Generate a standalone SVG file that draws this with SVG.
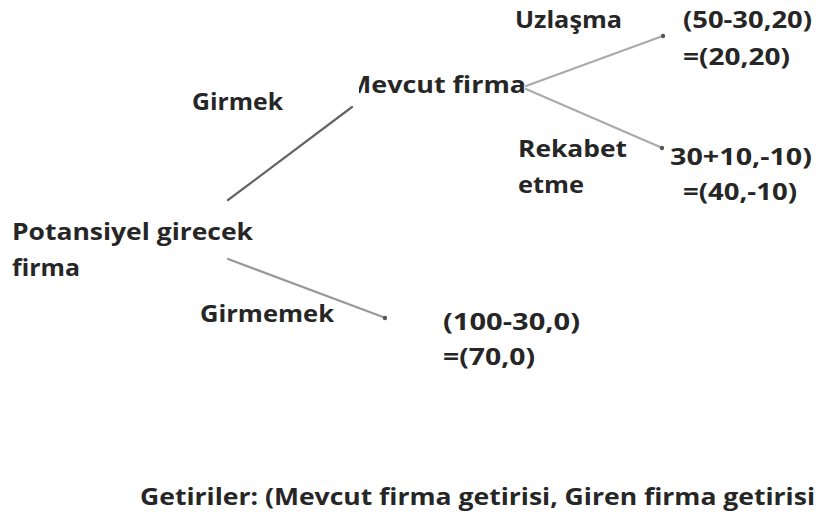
<svg xmlns="http://www.w3.org/2000/svg" width="822" height="523" viewBox="0 0 822 523">
<defs>
<style>
text{font-family:"Open Sans","Liberation Sans",sans-serif;font-weight:bold;font-size:24px;fill:#262626}
.e{stroke-width:2.2;fill:none;stroke-linecap:round}
.d{fill:#555}
</style>
<clipPath id="cm"><rect x="359" y="60" width="200" height="50"/></clipPath>
</defs>
<rect width="822" height="523" fill="#fff"/>
<g id="connectors">
<line class="e" x1="228" y1="200" x2="352" y2="107" stroke="#666"/>
<line class="e" x1="228" y1="259" x2="383" y2="317" stroke="#999"/>
<line class="e" x1="526" y1="86" x2="660" y2="37" stroke="#aaa"/>
<line class="e" x1="526" y1="89" x2="660" y2="147" stroke="#aaa"/>
<circle class="d" cx="385" cy="318" r="2.2"/>
<circle class="d" cx="663" cy="36" r="2.2"/>
<circle class="d" cx="662" cy="148" r="2.2"/>
</g>
<g id="root"><text x="12" y="240" textLength="241" lengthAdjust="spacingAndGlyphs">Potansiyel girecek</text><text x="12" y="276" textLength="68" lengthAdjust="spacingAndGlyphs">firma</text></g>
<g id="mevcut"><text x="346" y="93" textLength="180" lengthAdjust="spacingAndGlyphs" clip-path="url(#cm)">Mevcut firma</text></g>
<g id="lbl-girmek"><text x="192" y="110" textLength="91" lengthAdjust="spacingAndGlyphs">Girmek</text></g>
<g id="lbl-girmemek"><text x="200" y="322" textLength="134" lengthAdjust="spacingAndGlyphs">Girmemek</text></g>
<g id="lbl-uzlasma"><text x="515" y="28" textLength="107" lengthAdjust="spacingAndGlyphs">Uzlaşma</text></g>
<g id="lbl-rekabet"><text x="518" y="157" textLength="109" lengthAdjust="spacingAndGlyphs">Rekabet</text><text x="518" y="193" textLength="66" lengthAdjust="spacingAndGlyphs">etme</text></g>
<g id="payoff-uzlasma"><text x="683" y="28" textLength="129" lengthAdjust="spacingAndGlyphs">(50-30,20)</text><text x="683" y="65" textLength="107" lengthAdjust="spacingAndGlyphs">=(20,20)</text></g>
<g id="payoff-rekabet"><text x="670" y="165" textLength="142" lengthAdjust="spacingAndGlyphs">30+10,-10)</text><text x="683" y="200" textLength="114" lengthAdjust="spacingAndGlyphs">=(40,-10)</text></g>
<g id="payoff-girmemek"><text x="443" y="330" textLength="137" lengthAdjust="spacingAndGlyphs">(100-30,0)</text><text x="443" y="365" textLength="92" lengthAdjust="spacingAndGlyphs">=(70,0)</text></g>
<g id="legend"><text x="140" y="505" textLength="675" lengthAdjust="spacingAndGlyphs">Getiriler: (Mevcut firma getirisi, Giren firma getirisi</text></g>
</svg>
